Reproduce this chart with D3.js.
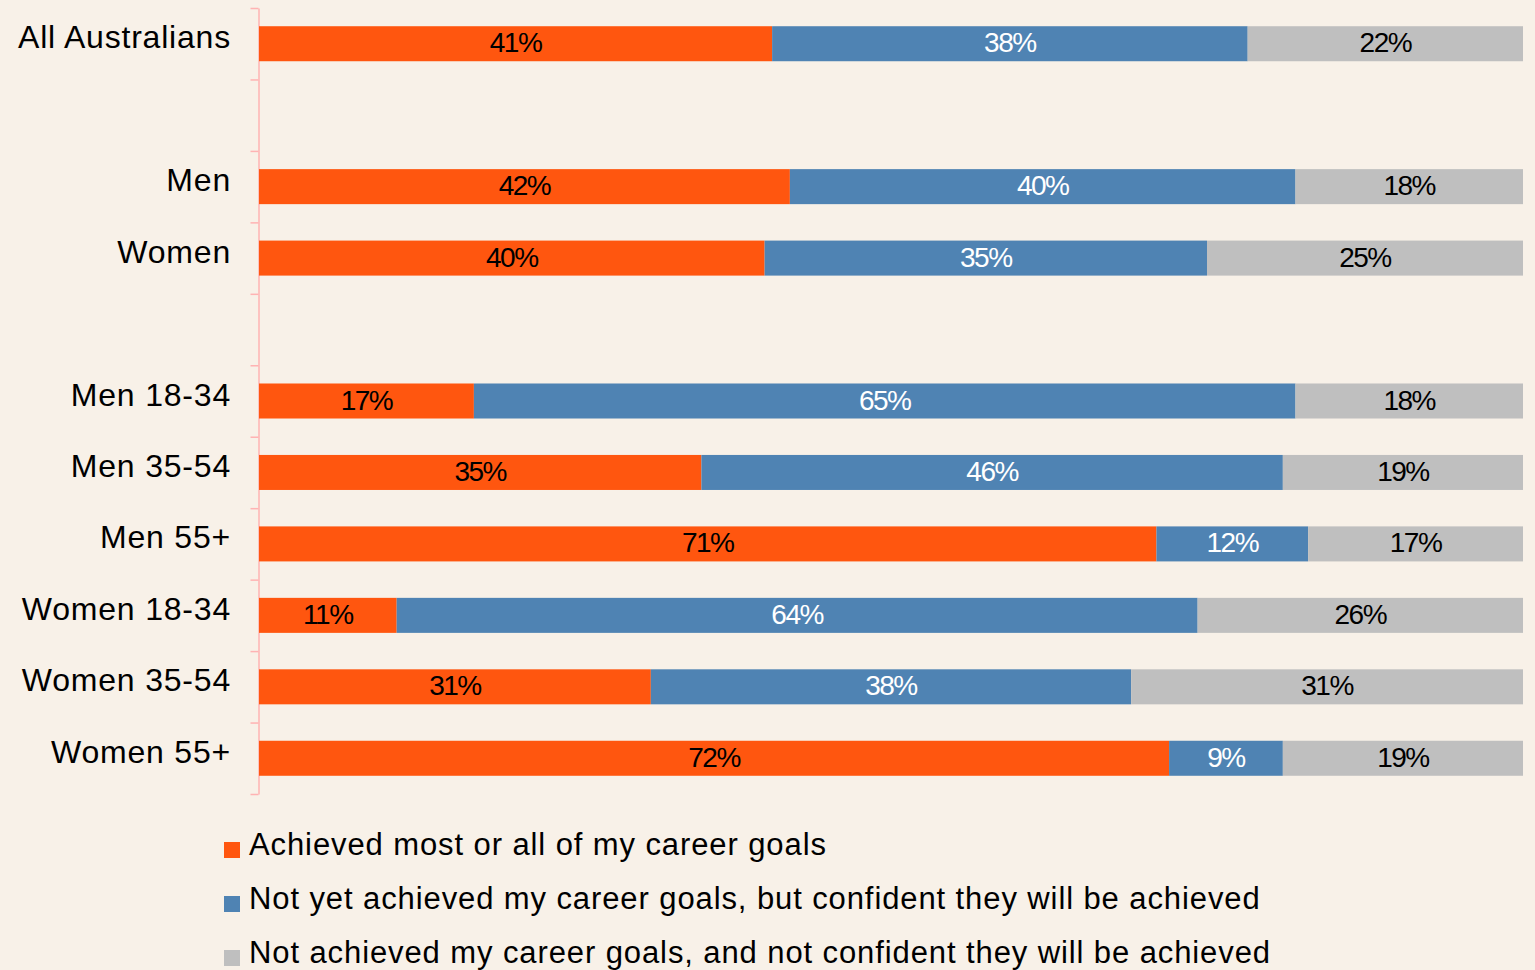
<!DOCTYPE html>
<html><head><meta charset="utf-8">
<script src="https://cdn.jsdelivr.net/npm/d3@7"></script>
<style>
html,body{margin:0;padding:0;background:#F8F1E8;}
svg{display:block;font-family:"Liberation Sans",Arial,sans-serif;}
</style></head>
<body><svg id="c" width="1535" height="970"></svg>
<script>
const categories = ["All Australians","", "Men","Women","", "Men 18-34","Men 35-54","Men 55+","Women 18-34","Women 35-54","Women 55+"];
const achieved   = [41,null,42,40,null,17,35,71,11,31,72];
const confident  = [38,null,40,35,null,65,46,12,64,38,9];
const notConf    = [22,null,18,25,null,18,19,17,26,31,19];
const seriesNames = ["Achieved most or all of my career goals",
  "Not yet achieved my career goals, but confident they will be achieved",
  "Not achieved my career goals, and not confident they will be achieved"];
const colors = ["#FF560F","#4F83B3","#BFBFBF"];
const labelColors = ["#000","#fff","#000"];

(function(){
const svg = d3.select("#c");
const left = 259, right = 1523, y0 = 8, y1 = 794;
const keys = categories.map((c,i)=>"k"+i);
const y = d3.scaleBand().domain(keys).range([y0,y1]).paddingInner(0.51).paddingOuter(0.255);
const x = d3.scaleLinear().domain([0,1]).range([left,right]);

const rows = categories.map((c,i)=>({key:keys[i],cat:c,vals:[achieved[i],confident[i],notConf[i]]}));

// axis
const yi = d3.scaleLinear().domain([0,categories.length]).range([y0,y1]);
const ax = svg.append("g").attr("transform",`translate(${left-0.5},0)`)
  .call(d3.axisLeft(yi).tickValues(d3.range(categories.length+1)).tickFormat("").tickSize(8).tickSizeOuter(0));
ax.select(".domain").attr("stroke","#FFB3B3").attr("stroke-width",1.5);
ax.selectAll(".tick line").attr("stroke","#FFB3B3").attr("stroke-width",1.5);

rows.forEach(r=>{
  if(r.vals[0]==null) return;
  const total = d3.sum(r.vals);
  let acc = 0;
  r.vals.forEach((v,j)=>{
    const xa = x(acc/total), xb = x((acc+v)/total);
    svg.append("rect").attr("x",xa).attr("y",y(r.key)).attr("width",xb-xa).attr("height",y.bandwidth())
      .attr("fill",colors[j]);
    svg.append("text").attr("x",(xa+xb)/2).attr("y",y(r.key)+y.bandwidth()/2+8.5)
      .attr("text-anchor","middle").attr("font-size",28).attr("letter-spacing","-1.5px")
      .attr("fill",labelColors[j]).text(v+"%");
    acc += v;
  });
  svg.append("text").attr("x",231).attr("y",y(r.key)+y.bandwidth()/2+4.5)
    .attr("text-anchor","end").attr("font-size",32).attr("letter-spacing","0.8px").attr("fill","#000").text(r.cat);
});

// legend
const lg = svg.append("g");
seriesNames.forEach((n,i)=>{
  const yy = 842 + i*54;
  lg.append("rect").attr("x",224).attr("y",yy).attr("width",16).attr("height",16).attr("fill",colors[i]);
  lg.append("text").attr("x",249).attr("y",yy+13).attr("font-size",31).attr("letter-spacing","0.9px").attr("fill","#000").text(n);
});
})();
</script></body></html>
